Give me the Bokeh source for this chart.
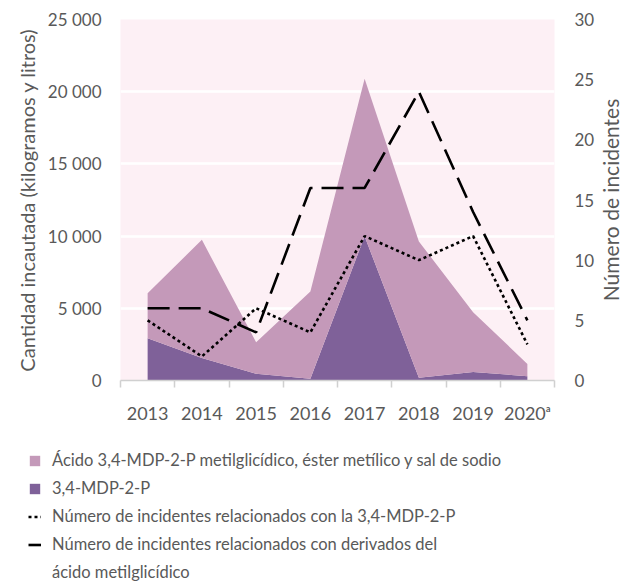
from bokeh.plotting import figure
from bokeh.layouts import row
from bokeh.models import (ColumnDataSource, Range1d, LinearAxis, FixedTicker,
                          Legend, LegendItem, Label)
from bokeh.embed import file_html
from bokeh.resources import INLINE

# ---- data ----
years = ["2013", "2014", "2015", "2016", "2017", "2018", "2019", "2020ᵃ"]
mdp2p_qty = [2930, 1550, 460, 120, 9990, 190, 580, 300]
glycidic_qty = [3120, 8190, 2190, 6040, 10910, 9440, 4150, 850]
incidents_mdp2p = [5, 2, 6, 4, 12, 10, 12, 3]
incidents_glycidic = [6, 6, 4, 16, 16, 24, 14, 5]
left_ticks = [0, 5000, 10000, 15000, 20000, 25000]
right_ticks = [0, 5, 10, 15, 20, 25, 30]
legend_lines = [
    "Ácido 3,4-MDP-2-P metilglicídico, éster metílico y sal de sodio",
    "3,4-MDP-2-P",
    "Número de incidentes relacionados con la 3,4-MDP-2-P",
    "Número de incidentes relacionados con derivados del",
    "ácido metilglicídico",
]

FONT = "Lato"
TXT = "#595959"
LIGHT = "#c499b9"
DARK = "#7f6199"
DOT = "3 3"
DASH = "22 9"

xs = list(range(len(years)))
src = ColumnDataSource(dict(x=xs, mdp2p=mdp2p_qty, glyc=glycidic_qty,
                            inc_m=incidents_mdp2p, inc_g=incidents_glycidic))

p = figure(width=598, height=432, output_backend="svg", toolbar_location=None,
           x_range=Range1d(-0.5, len(years) - 0.5), y_range=Range1d(0, 25000),
           min_border_left=120, min_border_right=44, min_border_top=19,
           min_border_bottom=52)
p.extra_y_ranges = {"inc": Range1d(0, 30)}
p.background_fill_color = "#fdf0f5"
p.border_fill_color = "white"
p.outline_line_color = None

p.varea_stack(stackers=["mdp2p", "glyc"], x="x", source=src, color=[DARK, LIGHT])
p.line("x", "inc_m", source=src, y_range_name="inc", line_color="black",
       line_width=2.6, line_dash=DOT)
p.line("x", "inc_g", source=src, y_range_name="inc", line_color="black",
       line_width=2.6, line_dash=DASH)

p.xgrid.visible = False
p.ygrid.grid_line_color = "white"
p.ygrid.grid_line_width = 2.5
p.ygrid.ticker = FixedTicker(ticks=left_ticks)

xa = p.xaxis[0]
xa.ticker = FixedTicker(ticks=xs, minor_ticks=[i - 0.5 for i in range(len(years) + 1)])
xa.major_label_overrides = {i: y for i, y in enumerate(years)}
xa.major_tick_line_color = None
xa.minor_tick_out = 7
xa.minor_tick_in = 0
xa.minor_tick_line_color = "#d0d0d0"
xa.minor_tick_line_width = 1.5
xa.axis_line_color = "#d0d0d0"
xa.axis_line_width = 1.5
xa.major_label_text_font = FONT
xa.major_label_text_font_size = "18px"
xa.major_label_text_color = TXT
xa.major_label_standoff = 14

ya = p.yaxis[0]
ya.ticker = FixedTicker(ticks=left_ticks)
ya.major_label_overrides = {t: f"{t:,}".replace(",", " ") for t in left_ticks}
ya.axis_line_color = None
ya.major_tick_line_color = None
ya.minor_tick_line_color = None
ya.major_label_text_font = FONT
ya.major_label_text_font_size = "17px"
ya.major_label_text_color = TXT
ya.major_label_standoff = 13
ya.axis_label = "Cantidad incautada (kilogramos y litros)"
ya.axis_label_text_font = FONT
ya.axis_label_text_font_size = "20px"
ya.axis_label_text_font_style = "normal"
ya.axis_label_text_color = TXT
ya.axis_label_standoff = 6

ra = LinearAxis(y_range_name="inc", ticker=FixedTicker(ticks=right_ticks))
ra.axis_line_color = None
ra.major_tick_line_color = None
ra.minor_tick_line_color = None
ra.major_label_text_font = FONT
ra.major_label_text_font_size = "17px"
ra.major_label_text_color = TXT
ra.major_label_standoff = 14
p.add_layout(ra, "right")

# ---- right-hand axis title, in a thin strip beside the chart ----
tf = figure(width=24, height=432, output_backend="svg", toolbar_location=None,
            x_axis_location=None, y_axis_location=None,
            min_border_left=0, min_border_right=0, min_border_top=19,
            min_border_bottom=52, x_range=Range1d(0, 1), y_range=Range1d(0, 1))
tf.outline_line_color = None
tf.grid.visible = False
tf.background_fill_color = "white"
tf.border_fill_color = "white"
tf.add_layout(Label(x=0.5, y=0.5, text="Número de incidentes", angle=90,
                    angle_units="deg", text_align="center", text_baseline="middle",
                    text_font=FONT, text_font_size="21px", text_color=TXT))

# ---- legend panel (separate root, so its frame is not aligned to the chart) ----
lg = figure(width=622, height=150, output_backend="svg", toolbar_location=None,
            x_axis_location=None, y_axis_location=None,
            min_border=0, x_range=Range1d(0, 1), y_range=Range1d(0, 1))
lg.outline_line_color = None
lg.grid.visible = False
lg.background_fill_color = "white"
lg.border_fill_color = "white"
nan_src = ColumnDataSource(dict(x=[float("nan")], y=[float("nan")]))
g1 = lg.varea(x="x", y1="y", y2="y", source=nan_src, fill_color=LIGHT)
g2 = lg.varea(x="x", y1="y", y2="y", source=nan_src, fill_color=DARK)
g3 = lg.line("x", "y", source=nan_src, line_color="black", line_width=2.6, line_dash=DOT)
g4 = lg.line("x", "y", source=nan_src, line_color="black", line_width=2.6, line_dash=DASH)
g5 = lg.line("x", "y", source=nan_src, line_alpha=0)

legend = Legend(items=[LegendItem(label=n, renderers=[r])
                       for n, r in zip(legend_lines, [g1, g2, g3, g4, g5])],
                location=(28, 0))
legend.background_fill_alpha = 0
legend.border_line_alpha = 0
legend.glyph_width = 13
legend.glyph_height = 13
legend.label_text_font = FONT
legend.label_text_font_size = "16.5px"
legend.label_text_color = TXT
legend.label_height = 20
legend.label_standoff = 11
legend.spacing = 8
legend.padding = 0
legend.margin = 0
lg.add_layout(legend, "center")

top = row(p, tf, spacing=0)
open("out.html", "w").write(file_html([top, lg], INLINE))
